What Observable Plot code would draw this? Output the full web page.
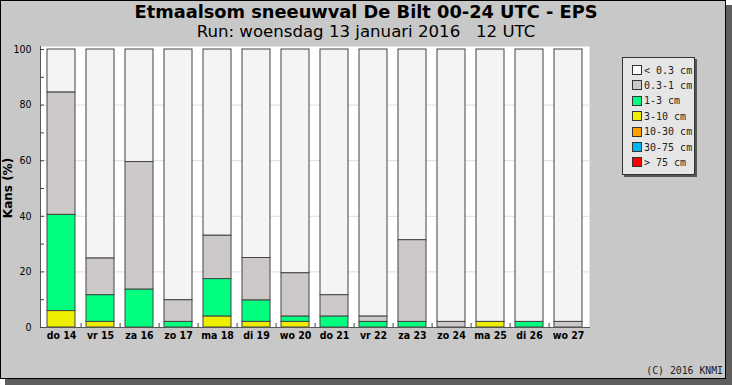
<!DOCTYPE html>
<html><head><meta charset="utf-8">
<script src="https://cdn.jsdelivr.net/npm/d3@7"></script>
<script src="https://cdn.jsdelivr.net/npm/@observablehq/plot@0.6"></script>
<style>
html,body{margin:0;padding:0;background:#fff}
body{width:732px;height:385px;overflow:hidden;position:relative;font-family:"DejaVu Sans Condensed","DejaVu Sans",sans-serif}
#shadow{position:absolute;left:5px;top:5px;width:727px;height:380px;background:#5e5e5e}
#panel{position:absolute;left:0;top:0;width:724px;height:377px;background:#c8c8c8;border:1px solid #000}
#title{position:absolute;left:0;width:732px;top:1px;text-align:center;font-family:"DejaVu Sans",sans-serif;font-weight:bold;font-size:17.8px;color:#000}
#subtitle{position:absolute;left:0;width:732px;top:22px;text-align:center;font-family:"DejaVu Sans",sans-serif;font-size:16.6px;color:#000;white-space:pre}
#chart{position:absolute;left:0;top:0}
#ylab{position:absolute;left:8px;top:188px;transform:translate(-50%,-50%) rotate(-90deg);font-family:"DejaVu Sans",sans-serif;font-weight:bold;font-size:12px;white-space:nowrap}
#legend{position:absolute;left:622px;top:57px;width:71px;height:116px;background:#e6e6e6;border:1px solid #333;box-shadow:2px 2px 0 #555}
.row{position:absolute;left:9px;height:12px;display:flex;align-items:center;font-family:"DejaVu Sans Mono",monospace;font-size:10px;color:#222;white-space:pre}
.sw{width:8px;height:8px;border:1px solid #333;margin-right:2px}
#copy{position:absolute;right:9px;top:365px;font-family:"DejaVu Sans Mono",monospace;font-size:9.8px;color:#222}
</style></head>
<body>
<div id="shadow"></div>
<div id="panel"></div>
<div id="title">Etmaalsom sneeuwval De Bilt 00-24 UTC - EPS</div>
<div id="subtitle">Run: woensdag 13 januari 2016   12 UTC</div>
<div id="chart"></div>
<div id="ylab">Kans (%)</div>
<div id="legend"></div>
<div id="copy">(C) 2016 KNMI</div>
<script>
const days = ["do 14","vr 15","za 16","zo 17","ma 18","di 19","wo 20","do 21","vr 22","za 23","zo 24","ma 25","di 26","wo 27"];
const categories = ["< 0.3 cm","0.3-1 cm","1-3 cm","3-10 cm","10-30 cm","30-75 cm","> 75 cm"];
const colors = ["#f4f4f4","#cdc9c9","#00ff7f","#eeee00","#ff9f00","#00b4f0","#ff0000"];
const legendColors = ["#fcfcfc","#cdc9c9","#00ff7f","#eeee00","#ff9f00","#00b4f0","#ff0000"];
// percentages per category per day
const lt03   = [15.5, 75.2, 40.5, 90.2, 67.0, 75.0, 80.5, 88.4, 96.1, 68.6, 98.0, 98.0, 98.0, 98.0];
const c03_1  = [44.0, 13.2, 45.9,  7.8, 15.6, 15.3, 15.6,  7.7,  1.9, 29.4,  2.0,  0.0,  0.0,  2.0];
const c1_3   = [34.6,  9.6, 13.6,  2.0, 13.5,  7.7,  1.9,  3.9,  2.0,  2.0,  0.0,  0.0,  2.0,  0.0];
const c3_10  = [ 5.9,  2.0,  0.0,  0.0,  3.9,  2.0,  2.0,  0.0,  0.0,  0.0,  0.0,  2.0,  0.0,  0.0];
const c10_30 = [0,0,0,0,0,0,0,0,0,0,0,0,0,0];
const c30_75 = [0,0,0,0,0,0,0,0,0,0,0,0,0,0];
const gt75   = [0,0,0,0,0,0,0,0,0,0,0,0,0,0];
const yTicks = [0, 20, 40, 60, 80, 100];
const yMinor = [0, 10, 20, 30, 40, 50, 60, 70, 80, 90, 100];
const yGrid = [20, 40, 60, 80];

const series = [lt03, c03_1, c1_3, c3_10, c10_30, c30_75, gt75];
const table = [];
days.forEach((day, i) => series.forEach((s, k) => {
  if (s[i] > 0) table.push({day, cat: categories[k], value: s[i]});
}));

const W = 600, mL = 40, mR = 11;
const step = (W - mL - mR) / days.length;

const chart = Plot.plot({
  width: W, height: 345,
  marginLeft: mL, marginRight: mR, marginTop: 46, marginBottom: 18,
  style: {background: "transparent", fontFamily: "'DejaVu Sans Condensed','DejaVu Sans',sans-serif", color: "#000"},
  x: {domain: days, paddingInner: 0.29, paddingOuter: 0.145, label: null},
  y: {domain: [0, 100], insetTop: 3, label: null},
  color: {domain: categories, range: colors},
  marks: [
    Plot.frame({fill: "white", stroke: null}),
    Plot.gridY(yGrid, {stroke: "#dddddd", strokeOpacity: 1}),
    Plot.barY(table, {x: "day", y: "value", fill: "cat", order: categories.slice().reverse(), stroke: "#444", strokeWidth: 1}),
    Plot.frame({anchor: "left", stroke: "#555"}),
    Plot.frame({anchor: "bottom", stroke: "#555"}),
    Plot.axisY(yTicks, {anchor: "left", tickSize: 0, tickPadding: 9, fontSize: 10.5, label: null}),
    Plot.axisY(yMinor, {anchor: "left", tickSize: 4, dx: 4, text: null, stroke: "#444", label: null}),
    Plot.axisX({anchor: "bottom", tickSize: 0, tickPadding: 4, fontSize: 10.5, fontWeight: "bold", label: null}),
    Plot.axisX(days.slice(0, -1), {anchor: "bottom", tickSize: 4, dy: -4, dx: step / 2, text: null, stroke: "#444", label: null})
  ]
});
document.getElementById("chart").appendChild(chart);

const leg = document.getElementById("legend");
categories.forEach((c, i) => {
  const r = document.createElement("div");
  r.className = "row";
  r.style.top = (6 + i * 15.4) + "px";
  const sw = document.createElement("div");
  sw.className = "sw";
  sw.style.background = legendColors[i];
  r.appendChild(sw);
  r.appendChild(document.createTextNode(c));
  leg.appendChild(r);
});
</script>
</body></html>
